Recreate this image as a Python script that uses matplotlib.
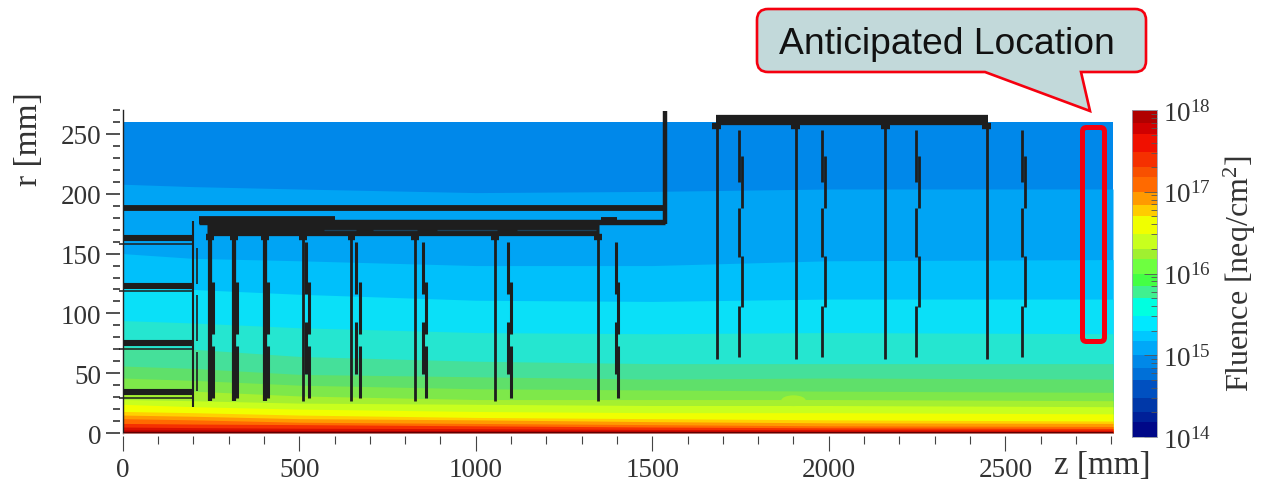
import numpy as np
from matplotlib import pyplot as plt
from matplotlib.patches import PathPatch, FancyBboxPatch, Ellipse
from matplotlib.path import Path
from matplotlib.ticker import MultipleLocator, LogLocator, NullFormatter, FixedLocator

plt.rcParams['font.family'] = ['Liberation Serif', 'DejaVu Serif']
plt.rcParams['mathtext.fontset'] = 'custom'
plt.rcParams['mathtext.rm'] = 'Liberation Serif'
plt.rcParams['mathtext.default'] = 'rm'

W, H = 1265, 481
INK = '#1e1e1e'
TXT = '#333333'

# fluence map, top edge of every band (r in mm) at each z column
band_z = [0, 200, 500, 1000, 1500, 2000, 2805]
band_colors = ['#0088ea', '#00a4f4', '#00c0fb', '#0ae0f8', '#25e6d0', '#45e09a', '#5fe06a',
               '#7ee84a', '#a5f030', '#c8ff1e', '#f0ff00', '#ffd000', '#ff9a00', '#ff6a00',
               '#f53000', '#d81000', '#b00000', '#600000']
band_tops = [
    [260, 260, 260, 260, 260, 260, 260],
    [208, 206, 204, 201, 202, 204, 204],
    [150, 146, 144, 140, 140, 144, 145],
    [122, 120, 116, 111, 110, 112, 112],
    [94, 92, 88, 84, 83, 84, 83],
    [72, 70, 64, 60, 58, 58, 58],
    [56, 54, 49, 47, 45, 46, 45],
    [46, 44, 40, 37, 36, 35, 34],
    [37, 35, 31, 28, 28, 28, 27],
    [28, 27, 25, 24, 23, 23, 22],
    [24, 22, 20, 18, 17, 17, 16],
    [18, 17, 15, 13, 12, 11, 10],
    [15, 14, 12, 11, 9.5, 8.5, 8],
    [12, 11, 9, 8, 7, 6, 5.5],
    [8, 7.5, 7, 6, 5, 4.3, 3.8],
    [5, 4.5, 4, 3.6, 3, 2.8, 2.4],
    [2.5, 2.5, 2.2, 2, 1.8, 1.6, 1.4],
    [1, 1, 1, 1, 1, 1, 1],
]

# colour scale
bar_edges = [18, 17.84, 17.71, 17.49, 17.30, 17.18, 17.0, 16.84, 16.70, 16.48, 16.30, 16.18,
             16.0, 15.85, 15.70, 15.48, 15.30, 15.17, 15.0, 14.84, 14.70, 14.48, 14.30, 14.18, 14.0]
bar_colors = ['#b00000', '#d00000', '#f01000', '#f53000', '#f85000', '#ff6a00', '#ff9a00', '#ffcc00',
              '#f0ff00', '#c8ff1e', '#a0f030', '#6eff40', '#44ff44', '#40f090', '#00ffe0', '#00e8ff',
              '#00c8ff', '#00a8f8', '#0088e8', '#0070d8', '#0050c0', '#0038a8', '#002098', '#000888']

# pixel layer inner detector
barrel_thick_r = [163, 123, 75, 34.5]
barrel_thin_r = [158, 118.5, 70, 29]
pix_disc_z = [247, 316, 403, 510, 648, 828, 1054, 1347]
pix_inner_z = [247, 316, 403, 520, 660, 850, 1091, 1397]
pix_outer_z = [255, 325, 412, 528, 672, 859, 1100, 1404]
pix_inner_r = [(160, 116), (92.5, 49.3)]
pix_outer_r = [(126.5, 82.8), (72.5, 29)]
slit_z = [(570, 660), (710, 835), (890, 1060), (1117, 1340)]
gap_z_r = [(155, 124.6), (115, 77), (67.5, 35)]

# outer discs
out_disc_z = [1682, 1906, 2160, 2447]
out_inner_z = [1745, 1982, 2248, 2547]
out_outer_z = [1755, 1990, 2255, 2555]
out_inner_r = [(253.6, 209.6), (188, 147), (106.4, 63.8)]
out_outer_r = [(231.9, 188), (148, 105)]


def px_ax(left, top, right, bottom):
    return [left / W, 1 - bottom / H, (right - left) / W, (bottom - top) / H]


def seg(ax, z0, r0, z1, r1, lw, color=INK):
    ax.plot([z0, z1], [r0, r1], color=color, lw=lw, solid_capstyle='butt', zorder=5, clip_on=False)


def rounded_callout():
    x0, x1, y0, y1, c = 757, 1146, 10, 73, 11
    verts = [(x0 + c, y0), (x1 - c, y0), (x1, y0), (x1, y0 + c), (x1, y1 - c), (x1, y1), (x1 - c, y1),
             (1081, y1), (1090, 112), (985, y1), (x0 + c, y1), (x0, y1), (x0, y1 - c), (x0, y0 + c),
             (x0, y0), (x0 + c, y0), (x0 + c, y0)]
    codes = [Path.MOVETO, Path.LINETO, Path.CURVE3, Path.CURVE3, Path.LINETO, Path.CURVE3, Path.CURVE3,
             Path.LINETO, Path.LINETO, Path.LINETO, Path.LINETO, Path.CURVE3, Path.CURVE3, Path.LINETO,
             Path.CURVE3, Path.CURVE3, Path.CLOSEPOLY]
    return Path(verts, codes)


fig = plt.figure(figsize=(W / 100, H / 100), dpi=100)

# main map
ax = fig.add_axes(px_ax(122.7, 110.7, 1113, 434))
for tops, color in zip(band_tops, band_colors):
    ax.fill_between(band_z, 0, tops, color=color, lw=0, zorder=1)
ax.add_patch(Ellipse((1900, 27), 70, 9, color='#a5f030', lw=0, zorder=2))
ax.set_xlim(0, 2805)
ax.set_ylim(0, 270.3)

for s in ax.spines.values():
    s.set_visible(False)
ax.spines['left'].set_position(('outward', 2.2))
ax.spines['bottom'].set_position(('outward', 2.2))
ax.axvline(0, color='#222222', lw=1.0, zorder=6, clip_on=False)
ax.axhline(0, color='#b08080', lw=0.6, zorder=6, clip_on=False)

ax.xaxis.set_major_locator(MultipleLocator(500))
ax.xaxis.set_minor_locator(MultipleLocator(100))
ax.yaxis.set_major_locator(MultipleLocator(50))
ax.yaxis.set_minor_locator(MultipleLocator(10))
ax.tick_params(axis='x', which='major', length=11, width=0.8, color='#444444', labelsize=19.5, labelcolor=TXT, pad=4)
ax.tick_params(axis='x', which='minor', length=5.5, width=0.8, color='#444444')
ax.tick_params(axis='y', which='major', length=10, width=1.2, color='#333333', labelsize=19.5, labelcolor=TXT, pad=3)
ax.tick_params(axis='y', which='minor', length=5, width=1.2, color='#333333')

# pixel barrel
for r in barrel_thick_r:
    seg(ax, 0, r, 200, r, 4.4)
for r in barrel_thin_r:
    seg(ax, -10, r, 200, r, 1.1)
seg(ax, 200, 21.5, 200, 177.5, 1.5)
for r0, r1 in gap_z_r:
    seg(ax, 211, r0, 211, r1, 1.2)

# services
seg(ax, 0, 188, 1536, 188, 4.2)
seg(ax, 1536, 174.7, 1536, 269.5, 3.2)
seg(ax, 215, 178, 600, 178, 5.6)
seg(ax, 240, 171, 1350, 171, 11.0)
seg(ax, 215, 176.5, 1536, 176.5, 3.9)
seg(ax, 1356, 179, 1400, 179, 2.8)
for z0, z1 in slit_z:
    seg(ax, z0, 169.5, z1, 169.5, 0.9, '#1c4058')
    ax.lines[-1].set_zorder(6)

# pixel discs
for i, z in enumerate(pix_disc_z):
    lw = 3.0 if i < 3 else 2.0
    seg(ax, z, 27, z, 164, lw)
    seg(ax, z - 11, 163.5, z + 11, 163.5, 4.6)
    for r0, r1 in pix_inner_r:
        seg(ax, pix_inner_z[i], r0, pix_inner_z[i], r1, 2.2)
    for r0, r1 in pix_outer_r:
        seg(ax, pix_outer_z[i], r0, pix_outer_z[i], r1, 2.2)

# outer section
seg(ax, 1680, 261.5, 2451, 261.5, 7.4)
for z in out_disc_z:
    seg(ax, z, 62, z, 258, 2.0)
    seg(ax, z - 12, 257, z + 12, 257, 4.6)
for z0, z1 in zip(out_inner_z, out_outer_z):
    for r0, r1 in out_inner_r:
        seg(ax, z0, r0, z0, r1, 2.0)
    for r0, r1 in out_outer_r:
        seg(ax, z1, r0, z1, r1, 2.0)

fig.text(29 / W, 1 - 139 / H, 'r [mm]', rotation=90, ha='center', va='center', fontsize=24, color=TXT)
fig.text(1102 / W, 1 - 466 / H, 'z [mm]', ha='center', va='center', fontsize=23.8, color=TXT)

# colour bar
cax = fig.add_axes(px_ax(1131.7, 111, 1157, 438))
cax.pcolormesh([0, 1], 10.0 ** np.array(bar_edges), np.arange(len(bar_colors))[:, None],
               cmap=plt.matplotlib.colors.ListedColormap(bar_colors))
cax.set_yscale('log')
cax.set_ylim(1e14, 1e18)
cax.set_xticks([])
cax.yaxis.tick_right()
cax.yaxis.set_major_locator(FixedLocator([1e14, 1e15, 1e16, 1e17, 1e18]))
cax.yaxis.set_minor_locator(LogLocator(base=10, subs=range(2, 10), numticks=10))
cax.yaxis.set_minor_formatter(NullFormatter())
cax.set_yticklabels(['$10^{14}$', '$10^{15}$', '$10^{16}$', '$10^{17}$', '$10^{18}$'])
cax.tick_params(axis='y', which='major', direction='in', length=9.5, width=0.6, color='#555555',
                labelsize=19.5, labelcolor=TXT, pad=4)
cax.tick_params(axis='y', which='minor', direction='in', length=4.5, width=0.6, color='#555555')
for s in cax.spines.values():
    s.set_color('#9aa0b0')
    s.set_linewidth(0.6)
fig.text(1240 / W, 1 - 274 / H, 'Fluence [neq/cm$^2$]', rotation=90, ha='center', va='center',
         fontsize=23, color=TXT)

# overlay in pixel coordinates for the annotation
over = fig.add_axes([0, 0, 1, 1], zorder=10)
over.set_xlim(0, W)
over.set_ylim(H, 0)
over.axis('off')
over.patch.set_alpha(0)
over.add_patch(PathPatch(rounded_callout(), facecolor='#c2d9da', edgecolor='#f5000f', lw=1.9))
over.text(947, 44, 'Anticipated Location', family='Liberation Sans', fontsize=26.8, color='#111111',
          ha='center', va='center')
over.add_patch(FancyBboxPatch((1086, 132), 15, 207, boxstyle='round,pad=3.5,rounding_size=4',
                              facecolor='none', edgecolor='#f5000f', lw=3.6))

fig.savefig('out.png', dpi=100)
